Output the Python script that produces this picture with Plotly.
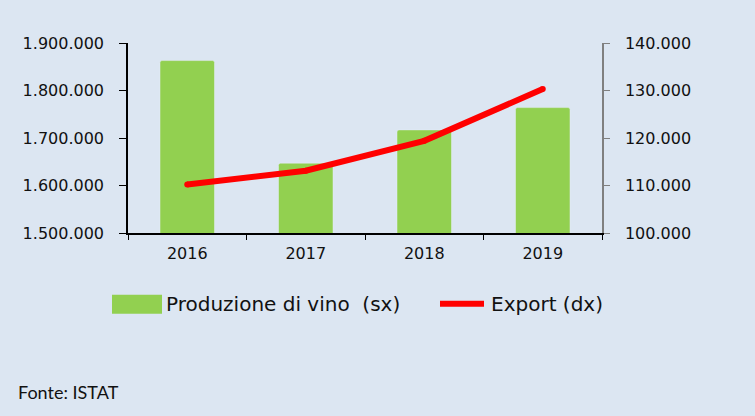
import plotly.graph_objects as go

years = ["2016", "2017", "2018", "2019"]
produzione = [1863000, 1647000, 1717000, 1764000]
export = [110200, 113100, 119400, 130300]

BG = "#dce6f2"
GREEN = "#92d050"
RED = "#ff0000"
TICKFONT = dict(family="DejaVu Sans", size=16, color="#111111")

fig = go.Figure()
fig.add_trace(go.Bar(x=years, y=produzione, marker=dict(color=GREEN, cornerradius=2),
                     name="Produzione di vino  (sx)", showlegend=False))
fig.add_trace(go.Scatter(x=years, y=export, yaxis="y2", mode="lines+markers",
                         line=dict(color=RED, width=6), marker=dict(color=RED, size=6),
                         name="Export (dx)", showlegend=False))

W, H = 755, 416
L, R, T, B = 128, 602, 43.3, 233.3

def px(x):
    return (x - L) / (R - L)

def py(y):
    return (B - y) / (B - T)

shapes = [
    dict(type="rect", xref="paper", yref="paper", x0=px(112), x1=px(162), y0=py(314), y1=py(295),
         fillcolor=GREEN, line=dict(width=0)),
    dict(type="line", xref="paper", yref="paper", x0=px(440), x1=px(484), y0=py(304), y1=py(304),
         line=dict(color=RED, width=6)),
]
annotations = [
    dict(text="Produzione di vino  (sx)", xref="paper", yref="paper", x=px(164), y=py(304),
         xanchor="left", yanchor="middle", showarrow=False,
         font=dict(family="DejaVu Sans", size=20, color="#111111")),
    dict(text="Export (dx)", xref="paper", yref="paper", x=px(489), y=py(304),
         xanchor="left", yanchor="middle", showarrow=False,
         font=dict(family="DejaVu Sans", size=20, color="#111111")),
    dict(text="Fonte: ISTAT", xref="paper", yref="paper", x=px(16), y=py(392),
         xanchor="left", yanchor="middle", showarrow=False,
         font=dict(family="Lato", size=18, color="#111111")),
]

fig.update_layout(
    width=W, height=H,
    margin=dict(l=L, r=W - R, t=T, b=H - B, pad=0),
    paper_bgcolor=BG, plot_bgcolor=BG,
    separators=",.",
    bargap=0.54,
    hovermode=False,
    shapes=shapes, annotations=annotations,
    xaxis=dict(type="category", showline=True, linecolor="black", linewidth=1.5,
               ticks="outside", tickson="boundaries", ticklen=5, tickcolor="black",
               showgrid=False, tickfont=TICKFONT, ticklabelstandoff=5),
    yaxis=dict(range=[1500000, 1900000], dtick=100000, tickformat=",d",
               showline=True, linecolor="black", linewidth=1.5,
               ticks="outside", ticklen=7, tickcolor="black",
               showgrid=False, zeroline=False, tickfont=TICKFONT, ticklabelstandoff=12),
    yaxis2=dict(range=[100000, 140000], dtick=10000, tickformat=",d",
                overlaying="y", side="right",
                showline=True, linecolor="#808080", linewidth=1.5,
                ticks="outside", ticklen=6, tickcolor="#808080",
                showgrid=False, zeroline=False, tickfont=TICKFONT, ticklabelstandoff=12),
)

fig.write_html("out.html", config=dict(displayModeBar=False),
               post_script="document.body.style.margin='0';document.body.style.background='#dce6f2';")
